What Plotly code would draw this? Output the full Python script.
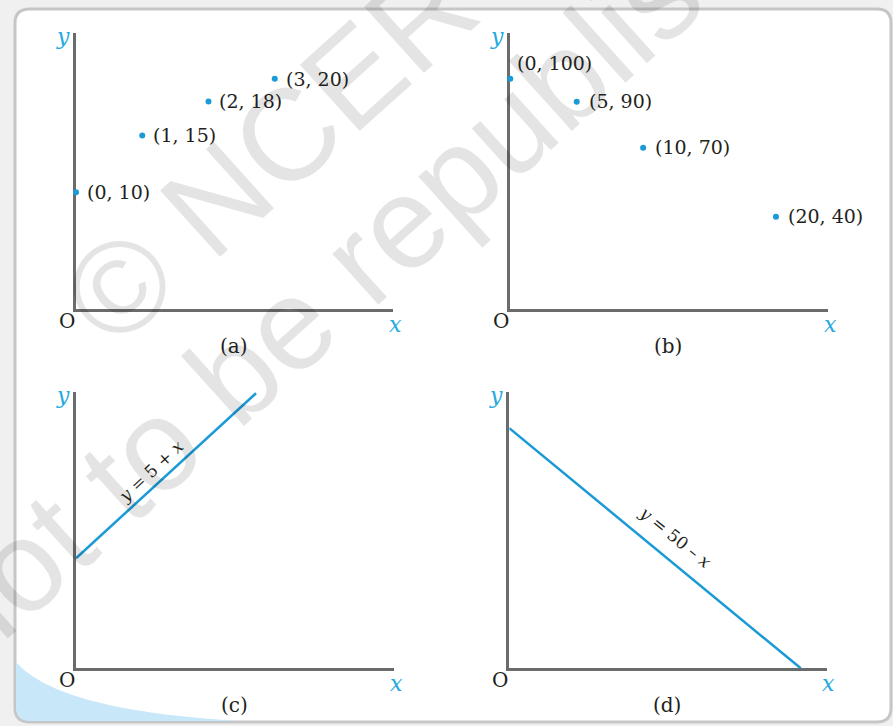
import plotly.graph_objects as go

# ---------------------------------------------------------------- data

# (a) four points rising
a_x = [0, 1, 2, 3]
a_y = [10, 15, 18, 20]

# (b) four points falling
b_x = [0, 5, 10, 20]
b_y = [100, 90, 70, 40]

# (c) line y = 5 + x
c_x = [0, 7.5]
c_y = [5, 12.5]
c_label = "<i>y</i> = 5 + <i>x</i>"

# (d) line y = 50 - x
d_x = [0, 50]
d_y = [50, 0]
d_label = "<i>y</i> = 50 – <i>x</i>"

panel_names = ["(a)", "(b)", "(c)", "(d)"]

# ---------------------------------------------------------------- styling

W, H = 893, 726
BLUE = "#1b9ad6"
LETTER_BLUE = "#27aae1"
AXIS_GREY = "#6b6b6d"
INK = "#231f20"
SERIF = "DejaVu Serif"


def px(x):
    return x / W


def py(y):
    return 1 - y / H


def pix_path(points):
    # points: list of (cmd, [x, y, x, y ...]) in pixels -> paper path
    out = []
    for cmd, coords in points:
        pairs = [f"{px(coords[i]):.5f},{py(coords[i + 1]):.5f}"
                 for i in range(0, len(coords), 2)]
        out.append(cmd + " " + " ".join(pairs))
    return " ".join(out) + " Z"


def note(text, x, y, font, **kw):
    # paper-positioned text, centred on (x, y) given in pixels
    return dict(text=text, x=px(x), y=py(y), xref="paper", yref="paper",
                xanchor="center", yanchor="middle", showarrow=False,
                font=font, **kw)


# pixel boxes of the four plotting areas: (left, right, top, bottom)
boxes = {
    "a": (76, 393.3, 32.7, 309.3),
    "b": (510.3, 828.3, 32.7, 309.3),
    "c": (76, 394, 391.7, 668.3),
    "d": (509.3, 826.7, 391.7, 668.3),
}
ranges = {
    "a": ([0, 4.79], [-0.3, 24.05]),
    "b": ([0, 23.94], [-0.26, 120]),
    "c": ([0, 13.25], [0, 12.57]),
    "d": ([0, 54.45], [0, 57.6]),
}

fig = go.Figure()

# ---------------------------------------------------------------- traces
marker = dict(color=BLUE, size=6)
fig.add_trace(go.Scatter(x=a_x, y=a_y, mode="markers", marker=marker,
                         cliponaxis=False, xaxis="x", yaxis="y"))
fig.add_trace(go.Scatter(x=b_x, y=b_y, mode="markers", marker=marker,
                         cliponaxis=False, xaxis="x2", yaxis="y2"))
fig.add_trace(go.Scatter(x=c_x, y=c_y, mode="lines",
                         line=dict(color=BLUE, width=2.5),
                         cliponaxis=False, xaxis="x3", yaxis="y3"))
fig.add_trace(go.Scatter(x=d_x, y=d_y, mode="lines",
                         line=dict(color=BLUE, width=2.5),
                         cliponaxis=False, xaxis="x4", yaxis="y4"))

# ---------------------------------------------------------------- axes
layout_axes = {}
for i, key in enumerate(["a", "b", "c", "d"]):
    l, r, t, b = boxes[key]
    xr, yr = ranges[key]
    sfx = "" if i == 0 else str(i + 1)
    common = dict(showgrid=False, zeroline=False, showticklabels=False,
                  ticks="", showline=True, linewidth=3, linecolor=AXIS_GREY,
                  layer="below traces", fixedrange=True)
    layout_axes["xaxis" + sfx] = dict(domain=[px(l), px(r)], range=xr,
                                      anchor="y" + sfx, **common)
    layout_axes["yaxis" + sfx] = dict(domain=[py(b), py(t)], range=yr,
                                      anchor="x" + sfx, **common)

# ---------------------------------------------------------------- annotations
ann = []

# watermark
wm_font = dict(family="Liberation Sans", size=130, color="rgba(0,0,0,0.105)")
ann.append(note("© NCERT", 298, 126, wm_font, textangle=-42))
ann.append(note("not to be republished", 390, 234, wm_font, textangle=-42))

label_font = dict(family=SERIF, size=19, color=INK)

# point labels for (a)
for x, y in zip(a_x, a_y):
    ann.append(dict(text=f"({x}, {y})", x=x, y=y, xref="x", yref="y",
                    xanchor="left", yanchor="middle", xshift=9, yshift=0,
                    showarrow=False, font=label_font))

# point labels for (b); the first sits above the point
for j, (x, y) in enumerate(zip(b_x, b_y)):
    ann.append(dict(text=f"({x}, {y})", x=x, y=y, xref="x2", yref="y2",
                    xanchor="left", yanchor="middle",
                    xshift=5 if j == 0 else 10, yshift=16 if j == 0 else 1,
                    showarrow=False, font=label_font))

# line labels
line_font = dict(family=SERIF, size=17, color=INK)
ann.append(dict(text=c_label, x=sum(c_x) / 2, y=sum(c_y) / 2, xref="x3", yref="y3",
                xanchor="center", yanchor="middle",
                textangle=-43, xshift=-15, yshift=5, showarrow=False,
                font=line_font))
ann.append(dict(text=d_label, x=sum(d_x) / 2, y=sum(d_y) / 2, xref="x4", yref="y4",
                xanchor="center", yanchor="middle",
                textangle=39, xshift=20, yshift=11, showarrow=False,
                font=line_font))

# axis letters, origin and panel captions
italic = dict(family=SERIF, size=22, color=LETTER_BLUE, style="italic")
caption = dict(family=SERIF, size=20, color=INK)
for key, name in zip(["a", "b", "c", "d"], panel_names):
    l, r, t, b = boxes[key]
    ann.append(note("y", l - 13, t + 4, italic))
    ann.append(note("x", r + 2, b + 15, italic))
    ann.append(note("O", l - 9.5, b + 12, caption))
    ann.append(note(name, (l + r) / 2 - 1, b + 37, caption))

# ---------------------------------------------------------------- card + corner
shapes = [
    dict(type="path", xref="paper", yref="paper", layer="below",
         path=pix_path([("M", [30, 9]), ("L", [877, 9]), ("Q", [891, 9, 891, 23]),
                        ("L", [891, 708]), ("Q", [891, 722, 877, 722]),
                        ("L", [30, 722]), ("Q", [15, 722, 15, 708]),
                        ("L", [15, 23]), ("Q", [15, 9, 30, 9])]),
         fillcolor="white", line=dict(color="#c6c6c6", width=3)),
    dict(type="path", xref="paper", yref="paper", layer="below",
         path=pix_path([("M", [16, 662]), ("C", [45, 695, 120, 714, 240, 721]),
                        ("L", [30, 721]), ("Q", [16, 721, 16, 707])]),
         fillcolor="#c8e7f8", line=dict(width=0)),
]

fig.update_layout(
    width=W, height=H,
    margin=dict(l=0, r=0, t=0, b=0),
    paper_bgcolor="#f0f0f0",
    plot_bgcolor="rgba(0,0,0,0)",
    showlegend=False,
    annotations=ann,
    shapes=shapes,
    **layout_axes,
)

# the page body has a default margin; drop it so the figure sits at 0,0
fig.write_html("out.html", config={"displayModeBar": False},
               post_script="document.body.style.margin='0';")
